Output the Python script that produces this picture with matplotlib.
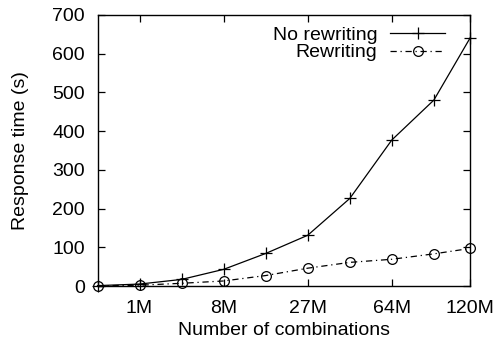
import numpy as np
import matplotlib
matplotlib.use('Agg')
import matplotlib.pyplot as plt

plt.rcParams['font.family'] = ['Liberation Sans', 'DejaVu Sans']
plt.rcParams['font.size'] = 14

# Number of combinations (millions) and response times (s)
combos = [0.125, 1, 3.375, 8, 15.625, 27, 42.875, 64, 91.125, 120]
no_rewriting = [1, 5, 17, 43, 84, 131, 226, 377, 480, 641]
rewriting = [0.5, 2, 7, 13, 27, 46, 61, 69, 83, 97]
xtick_vals = [1, 8, 27, 64, 120]
xtick_labels = ['1M', '8M', '27M', '64M', '120M']

fig = plt.figure(figsize=(4.95, 3.45), dpi=100)
ax = fig.add_axes([0.197, 0.171, 0.753, 0.786])

# x axis is laid out on a cube-root scale
ax.set_xscale('function', functions=(np.cbrt, lambda v: np.power(v, 3)))

ax.plot(combos, no_rewriting, color='black', lw=0.9, marker='+', ms=9,
        mew=0.9, label='No rewriting', clip_on=False)
ax.plot(combos, rewriting, color='black', lw=0.9, ls=(0, (5, 3, 1, 3)),
        marker='o', ms=7, mfc='none', mew=0.9, label='Rewriting', clip_on=False)

ax.set_xlim(combos[0], combos[-1])
ax.set_ylim(0, 700)
ax.set_yticks(range(0, 701, 100))
ax.set_xticks(xtick_vals)
ax.set_xticklabels(xtick_labels)
ax.minorticks_off()
ax.tick_params(direction='in', top=True, right=True, length=5, width=0.9)
ax.tick_params(axis='x', pad=10)
ax.tick_params(axis='y', pad=9)
for s in ax.spines.values():
    s.set_linewidth(1.0)

ax.set_xlabel('Number of combinations')
ax.set_ylabel('Response time (s)')
ax.xaxis.set_label_coords(0.5, -0.133)
ax.yaxis.set_label_coords(-0.185, 0.5)

ax.legend(loc='upper right', frameon=False, markerfirst=False,
          handlelength=2.85, borderaxespad=0, borderpad=0, labelspacing=0,
          handletextpad=0.65, bbox_to_anchor=(0.933, 0.958))

fig.savefig('out.png', dpi=100)
